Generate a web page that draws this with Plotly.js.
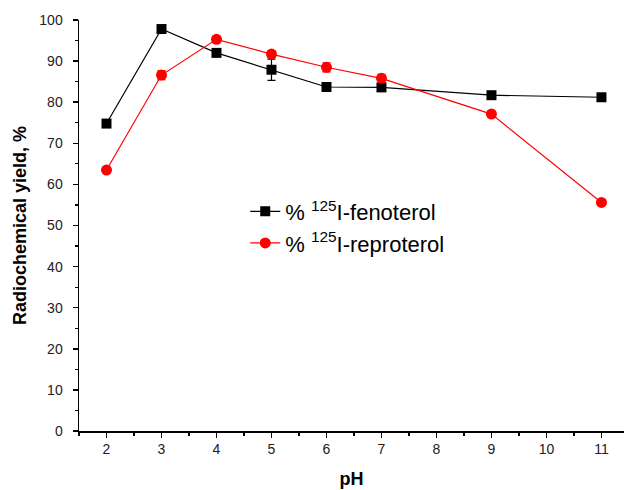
<!DOCTYPE html>
<html><head><meta charset="utf-8">
<script src="https://cdn.plot.ly/plotly-3.0.1.min.js"></script>
<style>body{margin:0;padding:0;background:#fff}</style>
</head><body>
<div id="chart" style="width:624px;height:490px"></div>
<script>
const pH = [2, 3, 4, 5, 6, 7, 9, 11];
const fenoterol = [74.8, 97.8, 92.0, 87.9, 83.7, 83.6, 81.7, 81.2];
const fenoterolErr = [0.4, 0.4, 0.6, 2.6, 0.4, 0.4, 0.4, 0.4];
const reproterol = [63.5, 86.6, 95.3, 91.7, 88.5, 85.8, 77.1, 55.6];
const reproterolErr = [0.4, 1.1, 0.7, 0.8, 1.1, 1.0, 0.5, 0.4];
const xTicks = [2, 3, 4, 5, 6, 7, 8, 9, 10, 11];
const yTicks = [0, 10, 20, 30, 40, 50, 60, 70, 80, 90, 100];

const traces = [
  {x: pH, y: fenoterol, type: 'scatter', mode: 'lines+markers',
   name: '% <sup>125</sup>I-fenoterol',
   line: {color: '#000', width: 1.2},
   marker: {symbol: 'square', size: 10, color: '#000'},
   error_y: {type: 'data', array: fenoterolErr, visible: true, color: '#000', thickness: 1.2, width: 4}},
  {x: pH, y: reproterol, type: 'scatter', mode: 'lines+markers',
   name: '% <sup>125</sup>I-reproterol',
   line: {color: '#ff0000', width: 1.2},
   marker: {symbol: 'circle', size: 11, color: '#ff0000'},
   error_y: {type: 'data', array: reproterolErr, visible: true, color: '#ff0000', thickness: 1.2, width: 4}}
];

const layout = {
  width: 624, height: 490,
  margin: {l: 79, r: 0, t: 20, b: 59, pad: 0},
  paper_bgcolor: '#fff', plot_bgcolor: '#fff',
  font: {family: 'Liberation Sans, Arial, sans-serif', color: '#000'},
  showlegend: true,
  legend: {x: 0.305, y: 0.585, xanchor: 'left', yanchor: 'top',
    bgcolor: 'rgba(0,0,0,0)', font: {size: 22, color: '#000'}, tracegroupgap: 0},
  xaxis: {range: [1.5, 11.41], tickvals: xTicks, ticktext: xTicks.map(String),
    showgrid: false, zeroline: false, showline: true, linecolor: '#000', linewidth: 1.5,
    ticks: 'outside', ticklen: 5, tickwidth: 1.5, tickcolor: '#000',
    minor: {dtick: 0.5, tick0: 1.5, ticks: 'outside', ticklen: 3, tickwidth: 1.2, tickcolor: '#000', showgrid: false},
    tickfont: {size: 14, color: '#222'},
    title: {text: '<b>pH</b>', font: {size: 18, color: '#000'}, standoff: 16}},
  yaxis: {range: [0, 100], tickvals: yTicks, ticktext: yTicks.map(String),
    showgrid: false, zeroline: false, showline: true, linecolor: '#000', linewidth: 1.5,
    ticks: 'outside', ticklen: 5, tickwidth: 1.5, tickcolor: '#000', ticklabelstandoff: 7,
    minor: {dtick: 5, tick0: 0, ticks: 'outside', ticklen: 3, tickwidth: 1.2, tickcolor: '#000', showgrid: false},
    tickfont: {size: 14, color: '#222'},
    title: {text: '<b>Radiochemical yield, %</b>', font: {size: 18, color: '#000'}, standoff: 8}}
};

Plotly.newPlot('chart', traces, layout, {displayModeBar: false, staticPlot: true});
</script>
</body></html>
